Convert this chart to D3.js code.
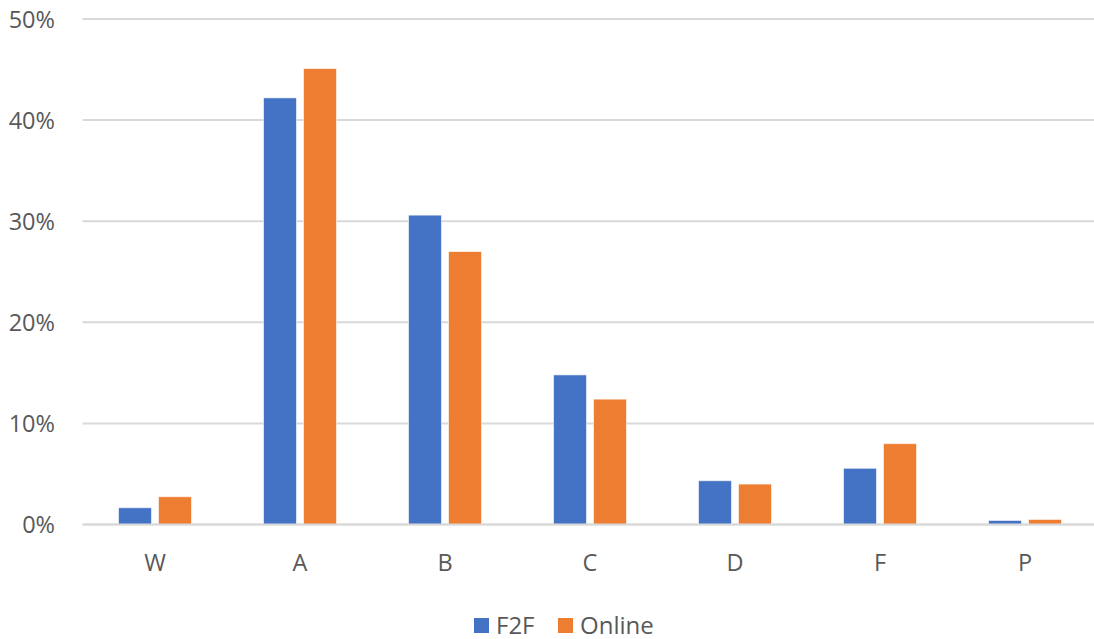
<!DOCTYPE html>
<html>
<head>
<meta charset="utf-8">
<script src="https://cdn.jsdelivr.net/npm/d3@7"></script>
<style>
  html, body { margin: 0; padding: 0; background: #fff; }
  svg text { font-family: "Open Sans", "Noto Sans", sans-serif; fill: #595959; }
</style>
</head>
<body>
<svg id="chart" width="1094" height="639"></svg>
<script>
// Grade distribution by delivery mode (share of students)
const grades = ["W", "A", "B", "C", "D", "F", "P"];
const seriesNames = ["F2F", "Online"];
const f2f = [0.0166, 0.422, 0.306, 0.148, 0.0433, 0.0556, 0.004];
const online = [0.0275, 0.451, 0.270, 0.124, 0.040, 0.080, 0.005];
const yTicks = [0, 0.1, 0.2, 0.3, 0.4, 0.5];
const colors = ["#4472C4", "#ED7D31"];

const svg = d3.select("#chart");
const plotLeft = 82.5, plotRight = 1097.5, plotTop = 19, plotBottom = 524.5;

const x = d3.scaleBand().domain(grades).range([plotLeft, plotRight]).padding(0);
const groupW = 73;
const xInner = d3.scaleBand()
  .domain(seriesNames)
  .range([(x.bandwidth() - groupW) / 2, (x.bandwidth() + groupW) / 2])
  .paddingInner(0.175);
const y = d3.scaleLinear().domain([0, 0.5]).range([plotBottom, plotTop]);

// Gridlines and y-axis labels
const yAxis = d3.axisLeft(y).tickValues(yTicks).tickFormat(d3.format(".0%")).tickSize(0).tickPadding(0);
const ya = svg.append("g").attr("transform", `translate(${plotLeft - 27.5},0)`).call(yAxis);
ya.select(".domain").remove();
ya.selectAll("text").attr("font-size", 23.5).attr("dy", "0.36em").style("font-family", "'Open Sans', sans-serif").attr("fill", "#595959");

svg.append("g").selectAll("line").data(yTicks).join("line")
  .attr("x1", plotLeft).attr("x2", 1094)
  .attr("y1", d => y(d)).attr("y2", d => y(d))
  .attr("stroke", "#d9d9d9").attr("stroke-width", 2);

// Bars
const rows = grades.map((g, i) => ({ grade: g, values: [f2f[i], online[i]] }));
const groups = svg.append("g").selectAll("g").data(rows).join("g")
  .attr("transform", d => `translate(${x(d.grade)},0)`);
groups.selectAll("rect").data(d => d.values.map((v, k) => ({ key: seriesNames[k], v, k })))
  .join("rect")
  .attr("x", d => xInner(d.key))
  .attr("width", xInner.bandwidth())
  .attr("y", d => y(d.v))
  .attr("height", d => y(0) - y(d.v))
  .attr("fill", d => colors[d.k])
  .attr("stroke", "#ffffff").attr("stroke-opacity", 0.6).attr("stroke-width", 1);

// Baseline
svg.append("line").attr("x1", plotLeft).attr("x2", 1094)
  .attr("y1", y(0)).attr("y2", y(0)).attr("stroke", "#d9d9d9").attr("stroke-width", 2);

// Category axis
const xAxis = d3.axisBottom(x).tickSize(0).tickPadding(0);
const xa = svg.append("g").attr("transform", `translate(0,${plotBottom})`).call(xAxis);
xa.select(".domain").remove();
xa.selectAll("text").attr("font-size", 23.5).attr("y", 46).attr("dy", 0).style("font-family", "'Open Sans', sans-serif").attr("fill", "#595959");

// Legend
const legend = svg.append("g").attr("transform", "translate(474,618)");
const legendX = [0, 84];
seriesNames.forEach((name, k) => {
  const g = legend.append("g").attr("transform", `translate(${legendX[k]},0)`);
  g.append("rect").attr("width", 15).attr("height", 15).attr("fill", colors[k]);
  g.append("text").attr("x", 22).attr("y", 15.5).attr("font-size", 24).text(name);
});
</script>
</body>
</html>
